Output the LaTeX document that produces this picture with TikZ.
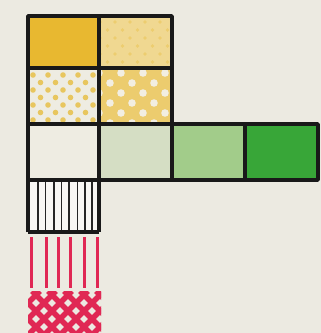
\documentclass[tikz,border=0pt]{standalone}
\begin{document}
\begin{tikzpicture}[x=1pt,y=-1pt,
  cellline/.style={line width=3.5pt,draw=black!90,line join=round},
  redline/.style={draw=redc,line width=3pt},
  meshline/.style={draw=redc,line width=5.5pt}]
\definecolor{bgc}{RGB}{236,234,225}
\definecolor{ya}{RGB}{232,184,48}
\definecolor{yb}{RGB}{240,216,145}
\definecolor{ydot}{RGB}{232,198,95}
\definecolor{yc}{RGB}{236,204,110}
\definecolor{wdot}{RGB}{242,238,226}
\definecolor{ga}{RGB}{238,236,226}
\definecolor{gb}{RGB}{213,222,196}
\definecolor{gc}{RGB}{162,204,138}
\definecolor{gd}{RGB}{56,166,56}
\definecolor{redc}{RGB}{224,40,84}
\fill[bgc] (0,0) rectangle (321,333);
\useasboundingbox (0,0) rectangle (321,333);
% fills
\fill[ya] (28,16) rectangle (99,68);
\fill[yb] (99,16) rectangle (172,68);
\fill[ga] (28,68) rectangle (99,124);
\fill[yc] (99,68) rectangle (172,124);
\fill[ga] (28,124) rectangle (99,180);
\fill[gb] (99,124) rectangle (172,180);
\fill[gc] (172,124) rectangle (245,180);
\fill[gd] (245,124) rectangle (318,180);
\fill[white!60!ga] (28,180) rectangle (99,232);
% faint dots top right
\begin{scope}
\clip (99,16) rectangle (172,68);
\foreach \r in {0,...,6}{
  \pgfmathsetmacro{\yy}{22+\r*8}
  \pgfmathsetmacro{\off}{mod(\r,2)*7.5}
  \foreach \c in {0,...,5}{
    \fill[ya!35!yb] (100+\off+\c*15,\yy) circle (1.8);
  }}
\end{scope}
% yellow dots on white
\begin{scope}
\clip (28,68) rectangle (99,124);
\foreach \r in {0,...,7}{
  \pgfmathsetmacro{\yy}{75+\r*7.5}
  \pgfmathsetmacro{\off}{mod(\r,2)*7.5}
  \foreach \c in {0,...,5}{
    \fill[ydot] (33+\off+\c*15,\yy) circle (2.8);
  }}
\end{scope}
% white dots on yellow
\begin{scope}
\clip (99,68) rectangle (172,124);
\foreach \r in {0,...,5}{
  \pgfmathsetmacro{\yy}{73+\r*10}
  \pgfmathsetmacro{\off}{mod(\r,2)*11}
  \foreach \c in {0,...,4}{
    \fill[wdot] (99+\off+\c*22,\yy) circle (3.8);
  }}
\end{scope}
% vertical stripes
\foreach \xx in {38,45.5,54,61.5,69,77.5,85,92}{
  \draw[black!85,line width=1.2pt] (\xx,180) -- (\xx,232);
}
% grid lines
\draw[cellline] (28,232) -- (28,16) -- (172,16) -- (172,124);
\draw[cellline] (99,16) -- (99,232);
\draw[cellline] (28,68) -- (172,68);
\draw[cellline] (28,124) -- (318,124) -- (318,180) -- (99,180);
\draw[cellline] (28,180) -- (99,180);
\draw[cellline] (28,232) -- (99,232);
\draw[cellline] (172,124) -- (172,180);
\draw[cellline] (245,124) -- (245,180);
% red lines
\foreach \xx in {31,46,58.3,70.7,84,97.3}{
  \draw[redline] (\xx,237) -- (\xx,288);
}
% red mesh
\begin{scope}
\clip (28,291) rectangle (101,333);
\foreach \k in {-6,...,8}{
  \draw[meshline] (\k*16,291) -- ++(60,60);
  \draw[meshline] (24+\k*16,291) -- ++(-60,60);
}
\end{scope}
\end{tikzpicture}
\end{document}
